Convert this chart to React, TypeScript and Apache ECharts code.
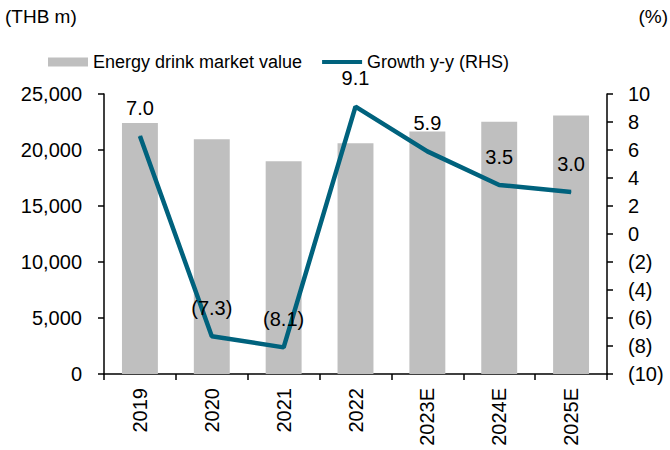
import React, { useEffect, useRef } from "react";
import * as echarts from "echarts";

const categories = ["2019", "2020", "2021", "2022", "2023E", "2024E", "2025E"];
const marketValue = [22400, 20950, 19000, 20600, 21650, 22520, 23080];
const growth = [7.0, -7.3, -8.1, 9.1, 5.9, 3.5, 3.0];

const FONT = "Arial, 'Liberation Sans', sans-serif";
const fmtPct = (v: number, digits: number) =>
  v < 0 ? `(${Math.abs(v).toFixed(digits)})` : v.toFixed(digits);

export default function App() {
  const ref = useRef<HTMLDivElement>(null);
  useEffect(() => {
    document.body.style.margin = "0";
    if (!ref.current) return;
    const chart = echarts.init(ref.current, null, { renderer: "svg" });
    chart.setOption({
      animation: false,
      textStyle: { fontFamily: FONT, color: "#000" },
      graphic: [
        { type: "text", left: 5, top: 7, style: { text: "(THB m)", font: `19px ${FONT}`, fill: "#000" } },
        { type: "text", right: 2, top: 7, style: { text: "(%)", font: `19px ${FONT}`, fill: "#000" } },
      ],
      legend: {
        left: 43,
        top: 48,
        itemWidth: 40,
        itemHeight: 9,
        itemGap: 20,
        textStyle: { fontSize: 18, color: "#000", fontFamily: FONT },
        data: [
          { name: "Energy drink market value", icon: "rect" },
          { name: "Growth y-y (RHS)", icon: "path://M0 0H40V4H0Z" },
        ],
      },
      grid: { left: 104, right: 63, top: 94, bottom: 76 },
      xAxis: {
        type: "category",
        data: categories,
        axisLine: { lineStyle: { color: "#000", width: 1.5 } },
        axisTick: { show: true, length: 6, lineStyle: { color: "#000", width: 1.5 } },
        axisLabel: { rotate: 90, fontSize: 20, color: "#000", margin: 14, fontFamily: FONT },
      },
      yAxis: [
        {
          type: "value",
          min: 0,
          max: 25000,
          interval: 5000,
          axisLine: { show: true, lineStyle: { color: "#000", width: 1.5 } },
          axisTick: { show: true, length: 6, lineStyle: { color: "#000", width: 1.5 } },
          splitLine: { show: false },
          axisLabel: {
            fontSize: 20,
            color: "#000",
            margin: 22,
            fontFamily: FONT,
            formatter: (v: number) => v.toLocaleString("en-US"),
          },
        },
        {
          type: "value",
          min: -10,
          max: 10,
          interval: 2,
          position: "right",
          axisLine: { show: true, lineStyle: { color: "#000", width: 1.5 } },
          axisTick: { show: true, length: 6, lineStyle: { color: "#000", width: 1.5 } },
          splitLine: { show: false },
          axisLabel: {
            fontSize: 20,
            color: "#000",
            margin: 21,
            fontFamily: FONT,
            formatter: (v: number) => fmtPct(v, 0),
          },
        },
      ],
      series: [
        {
          name: "Energy drink market value",
          type: "bar",
          data: marketValue,
          barWidth: "50%",
          itemStyle: { color: "#bfbfbf" },
          yAxisIndex: 0,
        },
        {
          name: "Growth y-y (RHS)",
          type: "line",
          data: growth,
          yAxisIndex: 1,
          symbol: "circle",
          symbolSize: 1,
          lineStyle: { color: "#00627d", width: 4.5 },
          itemStyle: { color: "#00627d" },
          label: {
            show: true,
            position: "top",
            distance: 18,
            fontSize: 20,
            color: "#000",
            fontFamily: FONT,
            formatter: (p: any) => fmtPct(p.value, 1),
          },
        },
      ],
    });
    return () => chart.dispose();
  }, []);
  return <div ref={ref} style={{ width: 670, height: 450 }} />;
}
